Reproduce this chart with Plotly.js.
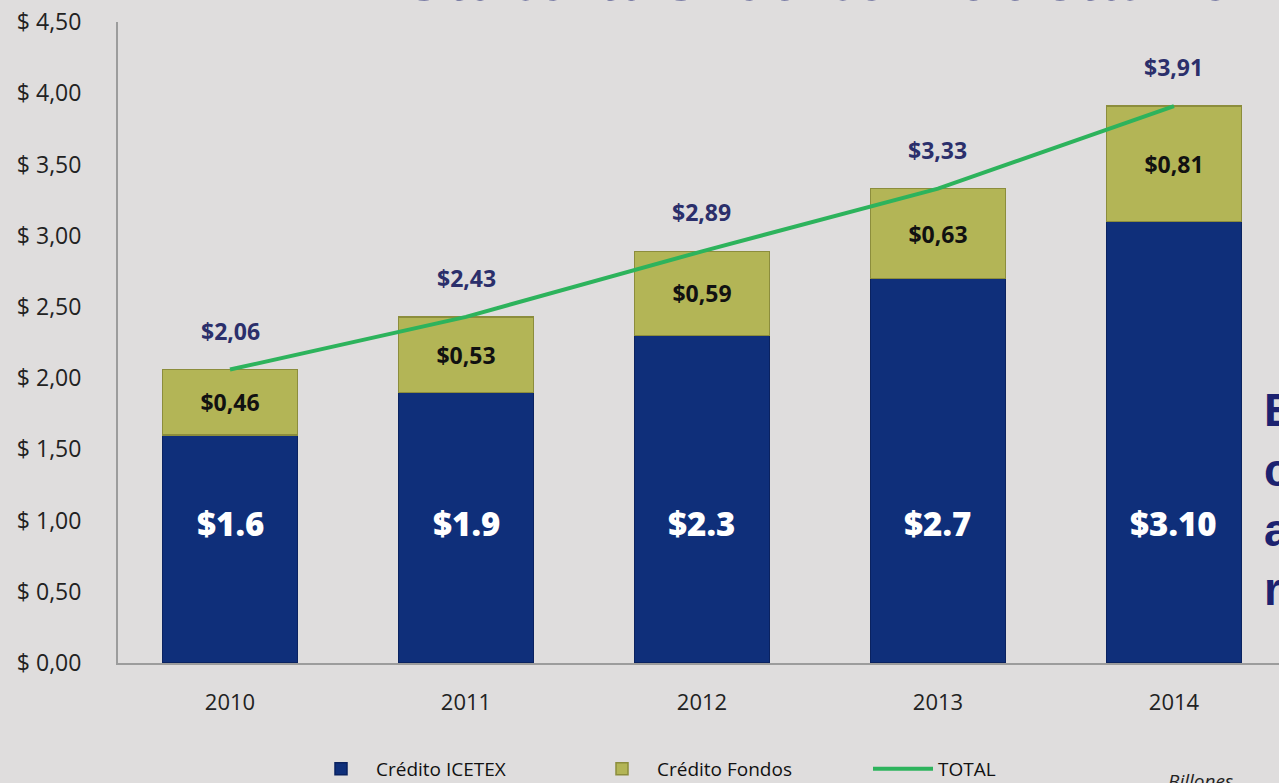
<!DOCTYPE html>
<html>
<head>
<meta charset="utf-8">
<script src="https://cdn.plot.ly/plotly-3.0.1.min.js"></script>
<style>
  html, body { margin: 0; padding: 0; background: #dfdddd; }
  #chart { width: 1279px; height: 783px; }
</style>
</head>
<body>
<div id="chart"></div>
<script>
// ---- data ----
const years = ['2010', '2011', '2012', '2013', '2014'];
const creditoIcetex = [1.6, 1.9, 2.3, 2.7, 3.10];
const creditoFondos = [0.46, 0.53, 0.59, 0.63, 0.81];
const total = [2.06, 2.43, 2.89, 3.33, 3.91];
const icetexLabels = ['$1.6', '$1.9', '$2.3', '$2.7', '$3.10'];
const yTickVals = [0, 0.5, 1, 1.5, 2, 2.5, 3, 3.5, 4, 4.5];
const yTickText = ['$ 0,00', '$ 0,50', '$ 1,00', '$ 1,50', '$ 2,00', '$ 2,50', '$ 3,00', '$ 3,50', '$ 4,00', '$ 4,50'];

const fmtComma = v => '$' + v.toFixed(2).replace('.', ',');

const BASE_FONT = 'Open Sans, Lato, sans-serif';
const NAVY = '#2b2f6b';
const plotLeft = 118, plotRight = 1279, plotTop = 22, plotBottom = 663;
const px2x = p => (p - plotLeft) / (plotRight - plotLeft);
const px2y = p => (plotBottom - p) / (plotBottom - plotTop);

const traces = [
  {
    type: 'bar', name: 'Crédito ICETEX', x: years, y: creditoIcetex,
    marker: { color: '#0f2f7a', line: { color: '#0a2260', width: 1.5 } },
    hoverinfo: 'x+y'
  },
  {
    type: 'bar', name: 'Crédito Fondos', x: years, y: creditoFondos,
    marker: { color: '#b3b556', line: { color: '#8c8d3c', width: 1.5 } },
    text: creditoFondos.map(fmtComma), texttemplate: '%{text}',
    textposition: 'inside', insidetextanchor: 'middle',
    textfont: { family: BASE_FONT, size: 23, color: '#111111', weight: 'bold' },
    hoverinfo: 'x+y'
  },
  {
    type: 'scatter', mode: 'lines', name: 'TOTAL', x: years, y: total,
    line: { color: '#2db35c', width: 4 },
    hoverinfo: 'x+y'
  }
];

const annotations = [];
years.forEach((yr, i) => {
  // ICETEX labels inside the blue bars (at a constant height)
  annotations.push({
    x: i, y: 0.98, xref: 'x', yref: 'y', text: icetexLabels[i], showarrow: false,
    font: { family: BASE_FONT, size: 33, color: '#ffffff', weight: 800 }
  });
  // total labels above the bars
  annotations.push({
    x: i, y: total[i], xref: 'x', yref: 'y', text: fmtComma(total[i]), showarrow: false,
    yshift: 39, font: { family: BASE_FONT, size: 23, color: NAVY, weight: 'bold' }
  });
});
// cut-off title at top
annotations.push({
  x: px2x(817), y: 1, xref: 'paper', yref: 'paper', xanchor: 'center', yanchor: 'bottom', yshift: 6,
  text: 'Cartera Crédito Educativo', showarrow: false,
  font: { family: 'Liberation Sans, Arial, sans-serif', size: 68, color: '#1c2270', weight: 'bold' }
});
// cut-off side text at right
annotations.push({
  x: px2x(1262), y: px2y(499), xref: 'paper', yref: 'paper', showarrow: false,
  text: 'E<br>c<br>a<br>r', align: 'left', xanchor: 'left', yanchor: 'middle',
  font: { family: 'Liberation Sans, Arial, sans-serif', size: 46, color: '#1c2270', weight: 'bold' }
});
annotations.push({
  x: px2x(1166), y: px2y(766), xref: 'paper', yref: 'paper', showarrow: false,
  text: '<i>Billones</i>', xanchor: 'left', yanchor: 'top',
  font: { family: BASE_FONT, size: 19, color: '#222222' }
});

const layout = {
  width: 1279, height: 783,
  paper_bgcolor: '#dfdddd', plot_bgcolor: '#dfdddd',
  margin: { l: 118, r: 0, t: 22, b: 120, autoexpand: false },
  barmode: 'stack', bargap: 0.428,
  showlegend: true,
  legend: {
    orientation: 'h', x: px2x(306), xanchor: 'left', y: px2y(769), yanchor: 'middle',
    font: { family: BASE_FONT, size: 19, color: '#111111' },
    entrywidth: 206, entrywidthmode: 'pixels', itemwidth: 60,
    bgcolor: 'rgba(0,0,0,0)', traceorder: 'normal'
  },
  xaxis: {
    type: 'category', range: [-0.4746, 4.445], showgrid: false,
    showline: true, linecolor: '#9c9c9c', linewidth: 2, ticks: '',
    ticklabelstandoff: 19,
    tickfont: { family: BASE_FONT, size: 22, color: '#222222' }, fixedrange: true
  },
  yaxis: {
    range: [0, 4.5], tickvals: yTickVals, ticktext: yTickText, showgrid: false,
    zeroline: false, showline: true, linecolor: '#9c9c9c', linewidth: 2, ticks: '',
    ticklabelstandoff: 30,
    tickfont: { family: BASE_FONT, size: 23, color: '#222222' }, fixedrange: true
  },
  annotations: annotations
};

Plotly.newPlot('chart', traces, layout, { displayModeBar: false, staticPlot: true });
</script>
</body>
</html>
